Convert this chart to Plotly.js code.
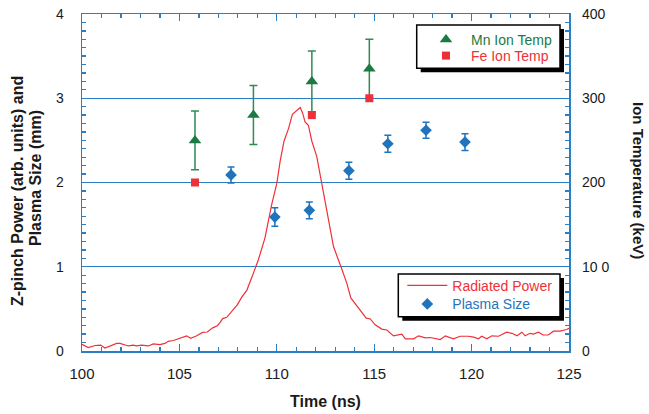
<!DOCTYPE html>
<html>
<head>
<meta charset="utf-8">
<script src="https://cdn.plot.ly/plotly-3.0.1.min.js"></script>
<style>html,body{margin:0;padding:0;background:#fff;}#chart{width:649px;height:414px;}</style>
</head>
<body>
<div id="chart"></div>
<script>
// Radiated power (arb. units), left axis
const powerTime = [100.0,100.32,100.67,100.96,101.18,101.52,101.78,101.95,102.38,102.63,102.8,103.06,103.41,103.66,104.0,104.26,104.43,104.69,105.03,105.37,105.58,105.89,106.19,106.43,106.71,106.95,107.09,107.22,107.43,107.74,107.98,108.2,108.46,108.71,108.93,109.05,109.39,109.74,110.0,110.17,110.37,110.6,110.8,110.99,111.2,111.33,111.45,111.62,111.8,112.05,112.31,112.65,112.91,113.34,113.6,113.8,114.11,114.37,114.59,114.8,115.05,115.39,115.65,115.99,116.42,116.6,117.02,117.28,117.62,117.88,118.13,118.39,118.65,118.9,119.07,119.41,119.84,120.1,120.35,120.52,120.78,121.04,121.38,121.8,122.07,122.33,122.58,122.75,123.0,123.17,123.43,123.68,123.94,124.2,124.54,124.88,125.0];
const powerValue = [0.08,0.04,0.065,0.07,0.035,0.065,0.09,0.09,0.06,0.07,0.06,0.07,0.06,0.085,0.075,0.09,0.115,0.125,0.15,0.18,0.15,0.18,0.22,0.225,0.275,0.30,0.34,0.385,0.40,0.49,0.55,0.64,0.72,0.87,1.0,1.08,1.34,1.74,1.99,2.25,2.49,2.64,2.81,2.85,2.89,2.82,2.72,2.68,2.49,2.31,1.99,1.58,1.24,0.97,0.80,0.63,0.53,0.46,0.39,0.38,0.31,0.26,0.25,0.18,0.20,0.145,0.145,0.18,0.155,0.16,0.148,0.136,0.18,0.16,0.145,0.175,0.175,0.165,0.145,0.175,0.145,0.18,0.175,0.223,0.21,0.18,0.223,0.18,0.21,0.20,0.223,0.19,0.19,0.235,0.235,0.255,0.27];

// Plasma size (mm), left axis
const plasmaTime = [107.65,109.9,111.67,113.7,115.7,117.66,119.66];
const plasmaSize = [2.09,1.59,1.67,2.14,2.46,2.62,2.48];
const plasmaErr  = [0.095,0.11,0.10,0.10,0.10,0.095,0.10];

// Mn ion temperature (keV), right axis
const mnTime = [105.8,108.8,111.8,114.75];
const mnTemp = [250,280,320,335];
const mnErr  = [35,35,36,35];

// Fe ion temperature (keV), right axis
const feTime = [105.8,111.8,114.75];
const feTemp = [200,280,300];

// Tick labels
const xTicks = [100,105,110,115,120,125];
const leftTicks = [0,1,2,3,4];
const rightTickVals = [0,100,200,300,400];
const rightTickText = ['0','10 0','200','300','400'];

const BLUE = '#1f74bd', RED = '#ee3138', GREEN = '#1b7a42', AX = '#2a7fc4';
const FONT = 'Liberation Sans, Arial, Helvetica, sans-serif';

const traces = [
  {x: powerTime, y: powerValue, type: 'scatter', mode: 'lines', name: '<span style="color:'+RED+'">Radiated Power</span>',
   line: {color: RED, width: 1.2}, legend: 'legend3', yaxis: 'y'},
  {x: plasmaTime, y: plasmaSize, type: 'scatter', mode: 'markers', name: '<span style="color:'+BLUE+'">Plasma Size</span>',
   marker: {symbol: 'diamond', size: 9, color: BLUE},
   error_y: {type: 'data', array: plasmaErr, color: BLUE, thickness: 1.5, width: 3.5},
   legend: 'legend4', yaxis: 'y'},
  {x: mnTime, y: mnTemp, type: 'scatter', mode: 'markers', name: '<span style="color:'+GREEN+'">Mn Ion Temp</span>',
   marker: {symbol: 'triangle-up', size: 11, color: GREEN},
   error_y: {type: 'data', array: mnErr, color: '#2f8a55', thickness: 1.5, width: 4},
   legend: 'legend', yaxis: 'y2'},
  {x: feTime, y: feTemp, type: 'scatter', mode: 'markers', name: '<span style="color:'+RED+'">Fe Ion Temp</span>',
   marker: {symbol: 'square', size: 8, color: RED},
   legend: 'legend2', yaxis: 'y2'}
];

function px2x(p){ return (p-82)/487; }
function px2y(p){ return (351-p)/337; }

const shapes = [];
function box(x0,y0,x1,y1){
  shapes.push({type:'rect', xref:'paper', yref:'paper', layer:'above',
    x0:px2x(x0+4), x1:px2x(x1+4), y0:px2y(y1+4), y1:px2y(y0+4),
    fillcolor:'#000', line:{width:0}});
  shapes.push({type:'rect', xref:'paper', yref:'paper', layer:'above',
    x0:px2x(x0), x1:px2x(x1), y0:px2y(y1), y1:px2y(y0),
    fillcolor:'#fff', line:{color:'#000', width:1.5}});
}
box(416.7,25,560,68.3);
box(398.3,274,560,316.7);

function leg(textX, cy){
  return {x: px2x(textX-50), y: px2y(cy), xanchor: 'left', yanchor: 'middle', bgcolor: 'rgba(0,0,0,0)',
    borderwidth: 0, itemwidth: 40, font: {size: 14, family: FONT}};
}

const layout = {
  width: 649, height: 414,
  margin: {l: 82, r: 80, t: 14, b: 63, pad: 0},
  paper_bgcolor: '#fff', plot_bgcolor: '#fff',
  font: {family: FONT, color: '#1a1a1a'},
  showlegend: true,
  xaxis: {
    range: [100,125], tickvals: xTicks, ticks: 'inside', ticklen: 7, tickcolor: AX, tickwidth: 1.3,
    minor: {dtick: 1, ticks: 'inside', ticklen: 4, tickcolor: AX, tickwidth: 1.3},
    showline: true, linecolor: AX, linewidth: 1.5, mirror: 'ticks',
    showgrid: false, zeroline: false, ticklabelstandoff: 8,
    tickfont: {size: 15, family: FONT, color: '#1a1a1a'},
    title: {text: 'Time (ns)', font: {size: 16, weight: 'bold', family: FONT, color: '#1a1a1a'}, standoff: 15}
  },
  yaxis: {
    range: [0,4], tickvals: leftTicks, ticks: 'inside', ticklen: 6, tickcolor: AX, tickwidth: 1.3,
    minor: {dtick: 0.1, ticks: 'inside', ticklen: 4, tickcolor: AX, tickwidth: 1.3, showgrid: false},
    showline: true, linecolor: AX, linewidth: 1.5, mirror: 'ticks',
    showgrid: true, gridcolor: AX, gridwidth: 1.2, zeroline: false, ticklabelstandoff: 14,
    tickfont: {size: 14, family: FONT, color: '#1a1a1a'}
  },
  yaxis2: {
    range: [0,400], overlaying: 'y', side: 'right', tickvals: rightTickVals, ticktext: rightTickText,
    ticks: '', showline: false, showgrid: false, zeroline: false, ticklabelstandoff: 12,
    tickfont: {size: 14, family: FONT, color: '#1a1a1a'}
  },
  legend: leg(471, 40),
  legend2: leg(471, 56),
  legend3: leg(452.3, 285.7),
  legend4: leg(452.3, 304.3),
  shapes: shapes,
  annotations: [
    {text: '<b>Z-pinch Power (arb. units) and</b>', xref: 'paper', yref: 'paper', x: px2x(17), y: px2y(191),
     textangle: -90, showarrow: false, xanchor: 'center', yanchor: 'middle', font: {size: 16, family: FONT, color: '#1a1a1a'}},
    {text: '<b>Plasma Size (mm)</b>', xref: 'paper', yref: 'paper', x: px2x(35), y: px2y(178),
     textangle: -90, showarrow: false, xanchor: 'center', yanchor: 'middle', font: {size: 16, family: FONT, color: '#1a1a1a'}},
    {text: '<b>Ion Temperature (keV)</b>', xref: 'paper', yref: 'paper', x: px2x(639), y: px2y(180),
     textangle: 90, showarrow: false, xanchor: 'center', yanchor: 'middle', font: {size: 15, family: FONT, color: '#1a1a1a'}}
  ]
};

Plotly.newPlot('chart', traces, layout, {displayModeBar: false, staticPlot: true});
</script>
</body>
</html>
